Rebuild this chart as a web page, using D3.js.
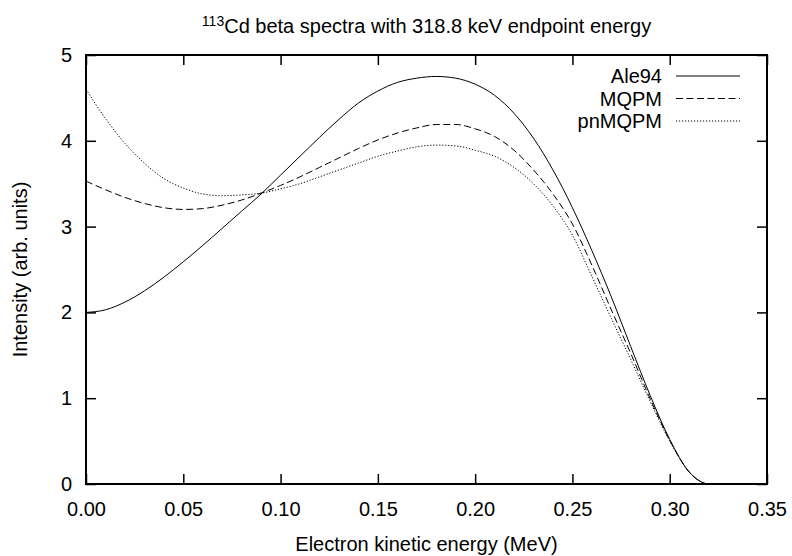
<!DOCTYPE html>
<html>
<head>
<meta charset="utf-8">
<script src="https://cdn.jsdelivr.net/npm/d3@7"></script>
<style>
  body { margin: 0; background: #fff; }
  text { font-family: "Liberation Sans", Arial, Helvetica, sans-serif; }
</style>
</head>
<body>
<div id="chart"></div>
<script>
// ---- data ----
var energy = [0.00, 0.01, 0.02, 0.03, 0.04, 0.05, 0.06, 0.07, 0.08, 0.09,
              0.10, 0.11, 0.12, 0.13, 0.14, 0.15, 0.16, 0.17, 0.18, 0.19,
              0.20, 0.21, 0.22, 0.23, 0.24, 0.25, 0.26, 0.27, 0.28, 0.29,
              0.30, 0.31, 0.315, 0.3188];

var ale94 = [2.00, 2.03, 2.12, 2.25, 2.41, 2.59, 2.78, 2.98, 3.18, 3.38,
             3.60, 3.82, 4.04, 4.25, 4.44, 4.58, 4.68, 4.73, 4.75, 4.73,
             4.66, 4.53, 4.32, 4.03, 3.66, 3.22, 2.72, 2.18, 1.60, 1.03,
             0.52, 0.14, 0.04, 0.00];

var mqpm = [3.53, 3.43, 3.34, 3.27, 3.22, 3.20, 3.21, 3.25, 3.31, 3.39,
            3.48, 3.58, 3.69, 3.80, 3.91, 4.01, 4.09, 4.15, 4.19, 4.19,
            4.14, 4.05, 3.89, 3.66, 3.38, 3.03, 2.55, 2.03, 1.52, 0.99,
            0.51, 0.14, 0.04, 0.00];

var pnmqpm = [4.60, 4.26, 3.97, 3.74, 3.56, 3.45, 3.38, 3.36, 3.37, 3.39,
              3.44, 3.50, 3.58, 3.66, 3.74, 3.82, 3.88, 3.93, 3.95, 3.94,
              3.89, 3.82, 3.69, 3.50, 3.24, 2.90, 2.42, 1.93, 1.45, 0.96,
              0.50, 0.14, 0.04, 0.00];

var seriesNames = ["Ale94", "MQPM", "pnMQPM"];
var xTicks = [0.00, 0.05, 0.10, 0.15, 0.20, 0.25, 0.30, 0.35];
var yTicks = [0, 1, 2, 3, 4, 5];

// ---- set-up ----
var svgWidth = 792;
var svgHeight = 556;
var margin = { top: 55, right: 25, bottom: 72, left: 86 };
var width = svgWidth - margin.left - margin.right;
var height = svgHeight - margin.top - margin.bottom;

var svg = d3.select("#chart").append("svg")
  .attr("width", svgWidth)
  .attr("height", svgHeight);

var g = svg.append("g")
  .attr("transform", `translate(${margin.left}, ${margin.top})`);

var x = d3.scaleLinear().domain([0, 0.35]).range([0, width]);
var y = d3.scaleLinear().domain([0, 5]).range([height, 0]);

// ---- axes (gnuplot style: ticks inside, mirrored) ----
var fs = "20px";
var tickLen = 10;

var xAxis = g.append("g")
  .attr("transform", `translate(0, ${height})`)
  .call(d3.axisBottom(x).tickValues(xTicks).tickFormat(d3.format(".2f"))
    .tickSize(-tickLen).tickPadding(tickLen + 8));
var xAxisTop = g.append("g")
  .call(d3.axisTop(x).tickValues(xTicks).tickFormat("").tickSize(-tickLen));
var yAxis = g.append("g")
  .call(d3.axisLeft(y).tickValues(yTicks).tickFormat(d3.format("d"))
    .tickSize(-tickLen).tickPadding(tickLen + 4));
var yAxisRight = g.append("g")
  .attr("transform", `translate(${width}, 0)`)
  .call(d3.axisRight(y).tickValues(yTicks).tickFormat("").tickSize(-tickLen));

[xAxis, xAxisTop, yAxis, yAxisRight].forEach(function(a) {
  a.select(".domain").remove();
  a.selectAll(".tick line").attr("stroke", "#000").attr("stroke-width", 1.5);
  a.selectAll(".tick text").attr("font-size", fs).attr("fill", "#000")
    .style("font-family", "'Liberation Sans', Arial, sans-serif");
});

// frame
g.append("rect")
  .attr("width", width).attr("height", height)
  .attr("fill", "none").attr("stroke", "#000").attr("stroke-width", 2);

// ---- curves ----
var dashes = [null, "7,3.5", "1.2,1.8"];
var allSeries = [ale94, mqpm, pnmqpm];

var line = d3.line()
  .x(d => x(d[0]))
  .y(d => y(d[1]))
  .curve(d3.curveMonotoneX);

allSeries.forEach(function(vals, i) {
  g.append("path")
    .datum(energy.map((e, k) => [e, vals[k]]))
    .attr("d", line)
    .attr("fill", "none")
    .attr("stroke", "#000")
    .attr("stroke-width", 1)
    .attr("stroke-dasharray", dashes[i]);
});

// ---- legend ----
seriesNames.forEach(function(name, i) {
  var ly = 21 + i * 22.5;
  g.append("text")
    .attr("x", 576).attr("y", ly + 7)
    .attr("text-anchor", "end")
    .attr("font-size", fs)
    .text(name);
  g.append("line")
    .attr("x1", 590).attr("x2", 654)
    .attr("y1", ly).attr("y2", ly)
    .attr("stroke", "#000").attr("stroke-width", 1)
    .attr("stroke-dasharray", dashes[i]);
});

// ---- titles ----
var title = svg.append("text")
  .attr("x", margin.left + width / 2)
  .attr("y", 33)
  .attr("text-anchor", "middle")
  .attr("font-size", fs);
title.append("tspan").attr("font-size", "14px").attr("dy", -7).text("113");
title.append("tspan").attr("dy", 7).text("Cd beta spectra with 318.8 keV endpoint energy");

svg.append("text")
  .attr("x", margin.left + width / 2)
  .attr("y", 551)
  .attr("text-anchor", "middle")
  .attr("font-size", fs)
  .text("Electron kinetic energy (MeV)");

svg.append("text")
  .attr("transform", `translate(27, ${margin.top + height / 2}) rotate(-90)`)
  .attr("text-anchor", "middle")
  .attr("font-size", fs)
  .text("Intensity (arb. units)");
</script>
</body>
</html>
